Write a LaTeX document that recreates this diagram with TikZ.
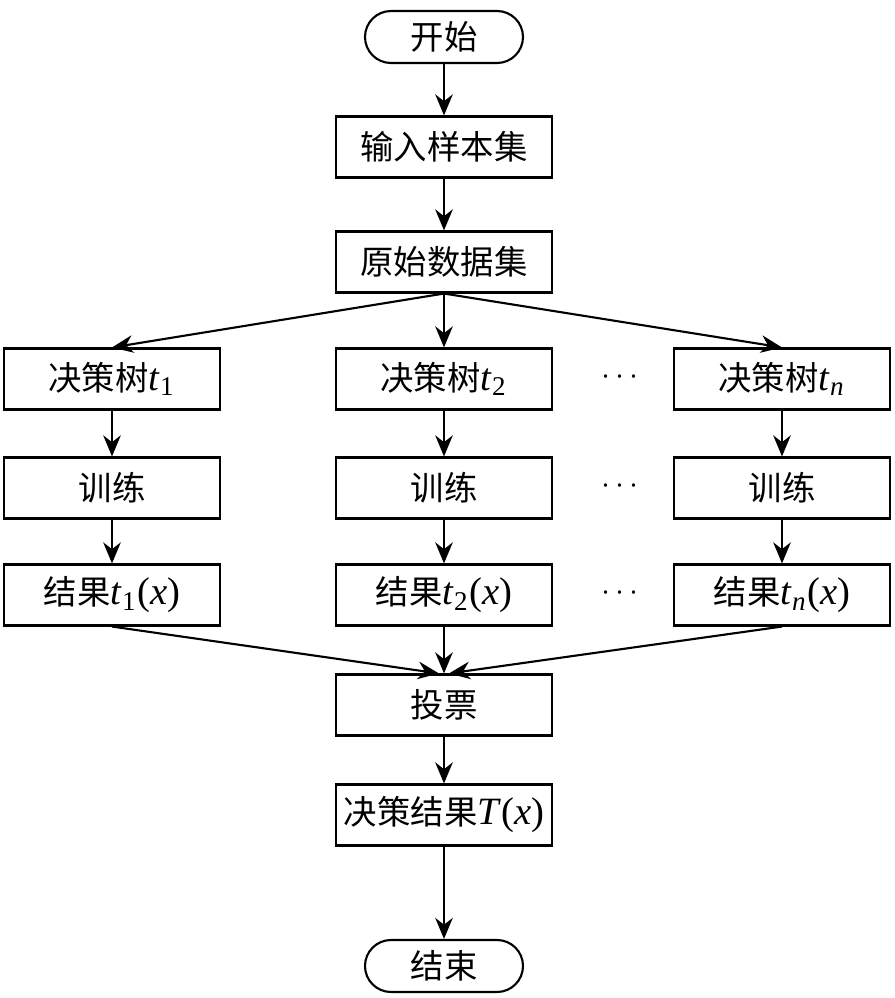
\documentclass[tikz,border=0pt]{standalone}
\usepackage{fontspec}
\setmainfont{Liberation Serif}
\newfontfamily\cjk{Noto Sans CJK SC}
\usetikzlibrary{arrows.meta}

\begin{document}
\begin{tikzpicture}[
		font=\cjk\fontsize{9.5}{11}\selectfont,
		box/.style={draw, line width=0.6pt, minimum width=2.16cm, minimum height=0.61cm, inner sep=0pt},
		term/.style={draw, line width=0.6pt, rounded corners=0.26cm, minimum width=1.58cm, minimum height=0.52cm, inner sep=0pt},
		arr/.style={line width=0.6pt, -{Stealth[length=6pt, width=5pt]}}
	]
	\useasboundingbox (0,0) rectangle (8.94,9.98);
	
	% main column
	\node[term] (start) at (4.44,9.61) {开始};
	\node[box] (input) at (4.44,8.51) {输入样本集};
	\node[box] (data) at (4.44,7.36) {原始数据集};
	
	% decision trees
	\node[box] (tree1) at (1.12,6.19) {决策树{\rmfamily\fontsize{11}{12}\selectfont\textit{t}\textsubscript{1}}};
	\node[box] (tree2) at (4.44,6.19) {决策树{\rmfamily\fontsize{11}{12}\selectfont\textit{t}\textsubscript{2}}};
	\node[box] (treen) at (7.82,6.19) {决策树{\rmfamily\fontsize{11}{12}\selectfont\textit{t}\textsubscript{\textit{n}}}};
	\node (dots1) at (6.20,6.21) {$\cdots$};
	
	\node[box] (train1) at (1.12,5.10) {训练};
	\node[box] (train2) at (4.44,5.10) {训练};
	\node[box] (trainn) at (7.82,5.10) {训练};
	\node (dots2) at (6.20,5.12) {$\cdots$};
	
	\node[box] (res1) at (1.12,4.03) {结果{\rmfamily\fontsize{11}{12}\selectfont\textit{t}\textsubscript{1}(\textit{x})}};
	\node[box] (res2) at (4.44,4.03) {结果{\rmfamily\fontsize{11}{12}\selectfont\textit{t}\textsubscript{2}(\textit{x})}};
	\node[box] (resn) at (7.82,4.03) {结果{\rmfamily\fontsize{11}{12}\selectfont\textit{t}\textsubscript{\textit{n}}(\textit{x})}};
	\node (dots3) at (6.20,4.05) {$\cdots$};
	
	\node[box] (vote) at (4.44,2.93) {投票};
	\node[box] (final) at (4.44,1.83) {决策结果{\rmfamily\fontsize{11}{12}\selectfont\textit{T}(\textit{x})}};
	\node[term] (end) at (4.44,0.32) {结束};
	
	% connectors
	\draw[arr] (start) -- (input);
	\draw[arr] (input) -- (data);
	\draw[arr] (data.south) -- (tree1.north);
	\draw[arr] (data.south) -- (tree2.north);
	\draw[arr] (data.south) -- (treen.north);
	
	\draw[arr] (tree1) -- (train1);
	\draw[arr] (tree2) -- (train2);
	\draw[arr] (treen) -- (trainn);
	\draw[arr] (train1) -- (res1);
	\draw[arr] (train2) -- (res2);
	\draw[arr] (trainn) -- (resn);
	
	\draw[arr] (res1.south) -- ([xshift=-0.05cm]vote.north);
	\draw[arr] (res2.south) -- (vote.north);
	\draw[arr] (resn.south) -- ([xshift=0.05cm]vote.north);
	
	\draw[arr] (vote) -- (final);
	\draw[arr] (final) -- (end);
\end{tikzpicture}
\end{document}
